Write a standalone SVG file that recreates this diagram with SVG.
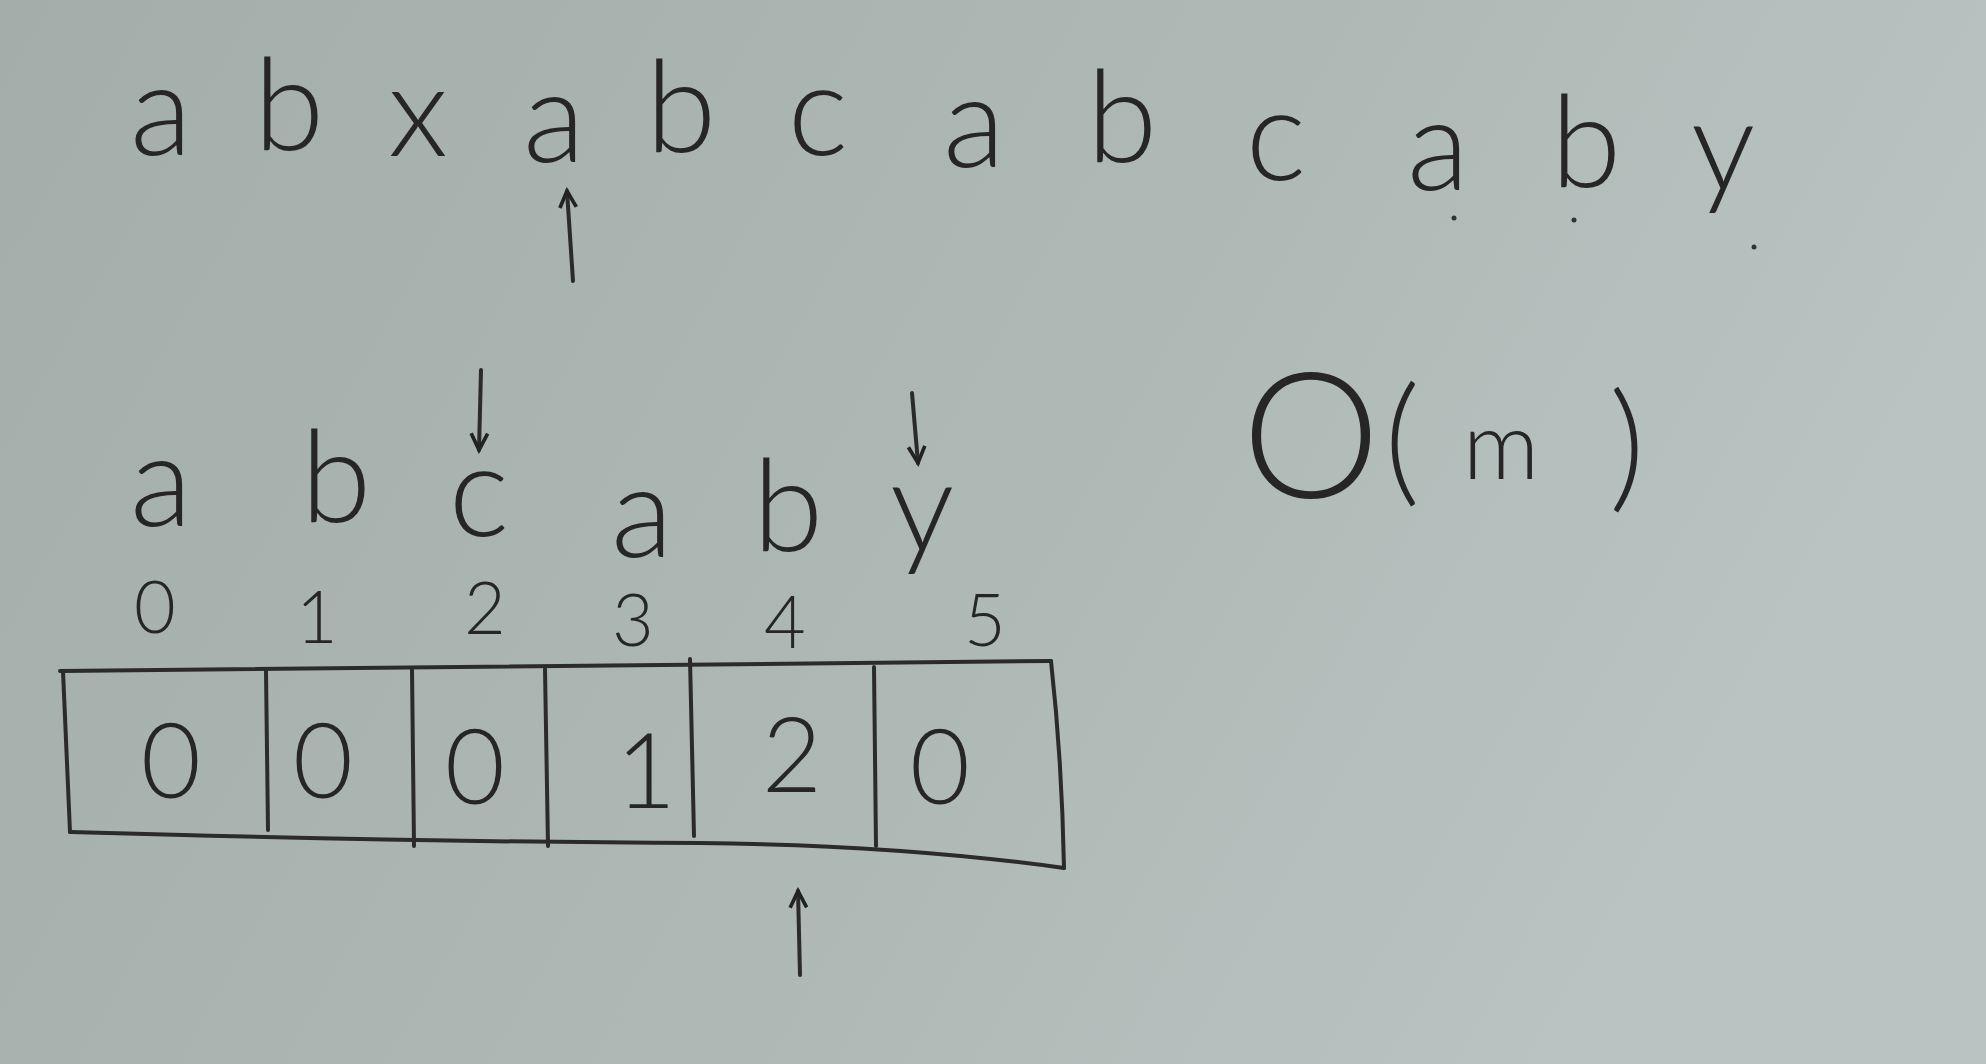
<svg xmlns="http://www.w3.org/2000/svg" width="1986" height="1064" viewBox="0 0 1986 1064">
<style>
.t{font-family:Lato,"Liberation Sans",sans-serif;font-weight:300;fill:#262626;text-anchor:middle}
.big{font-size:128px}
.idx{font-size:72px}
.val{font-size:104px}
.ink{fill:none;stroke:#2b2b2b;stroke-width:4;stroke-linecap:round;stroke-linejoin:round}
</style>
<defs>
<linearGradient id="bg" x1="0" y1="0" x2="1" y2="0.3">
<stop offset="0" stop-color="#a3aeaa"/>
<stop offset="0.6" stop-color="#aeb9b6"/>
<stop offset="1" stop-color="#b9c4c2"/>
</linearGradient>
<marker id="ah" viewBox="0 0 12 12" refX="10" refY="6" markerWidth="22" markerHeight="22" orient="auto" markerUnits="userSpaceOnUse">
<path d="M1,1.5 L10,6 L1,10.5" fill="none" stroke="#222" stroke-width="2"/>
</marker>
</defs>
<rect width="1986" height="1064" fill="url(#bg)"/>

<g id="text-string">
<text class="t big" x="161" y="155">a</text>
<text class="t big" x="289" y="150">b</text>
<text class="t big" x="418" y="156">x</text>
<text class="t big" x="554" y="162">a</text>
<text class="t big" x="681" y="152">b</text>
<text class="t big" x="818" y="155">c</text>
<text class="t big" x="974" y="167">a</text>
<text class="t big" x="1122" y="162">b</text>
<text class="t big" x="1276" y="180">c</text>
<text class="t big" x="1438" y="190">a</text>
<text class="t big" x="1586" y="187">b</text>
<text class="t big" x="1723" y="190">y</text>
<circle cx="1454" cy="218" r="2.5" fill="#333"/>
<circle cx="1574" cy="220" r="2.5" fill="#333"/>
<circle cx="1754" cy="247" r="2.5" fill="#333"/>
</g>

<g id="pattern">
<text class="t big" x="161" y="526">a</text>
<text class="t big" x="336" y="522">b</text>
<text class="t big" x="479" y="536">c</text>
<text class="t big" x="642" y="557">a</text>
<text class="t big" x="788" y="551">b</text>
<text class="t big" x="922" y="551">y</text>
</g>

<g id="indices">
<text class="t idx" x="155" y="633">0</text>
<text class="t idx" x="317" y="643">1</text>
<text class="t idx" x="485" y="634">2</text>
<text class="t idx" x="633" y="646">3</text>
<text class="t idx" x="785" y="648">4</text>
<text class="t idx" x="985" y="646">5</text>
</g>

<g id="lps-array">
<path class="ink" d="M60,671 Q500,668 1051,661"/>
<path class="ink" d="M63,671 L70,832"/>
<path class="ink" d="M1051,661 Q1062,760 1064,868"/>
<path class="ink" d="M70,832 Q420,842 700,843 Q900,845 1064,868"/>
<path class="ink" d="M266,671 L268,830"/>
<path class="ink" d="M412,669 L414,846"/>
<path class="ink" d="M545,669 L548,846"/>
<path class="ink" d="M690,659 L694,836"/>
<path class="ink" d="M874,667 L876,846"/>
<text class="t val" x="171" y="798">0</text>
<text class="t val" x="323" y="798">0</text>
<text class="t val" x="475" y="804">0</text>
<text class="t val" x="646" y="808">1</text>
<text class="t val" x="792" y="792">2</text>
<text class="t val" x="940" y="804">0</text>
</g>

<g id="complexity">
<text class="t" x="1311" y="498" font-size="175">O</text>
<text class="t" x="1402" y="488" font-size="140">(</text>
<text class="t" x="1501" y="479" font-size="95">m</text>
<text class="t" x="1627" y="494" font-size="140">)</text>
</g>

<g id="connectors">
<path class="ink" d="M573,281 L567,191" marker-end="url(#ah)"/>
<path class="ink" d="M481,370 L479,450" marker-end="url(#ah)"/>
<path class="ink" d="M912,393 L918,463" marker-end="url(#ah)"/>
<path class="ink" d="M800,975 L798,891" marker-end="url(#ah)"/>
</g>
</svg>
